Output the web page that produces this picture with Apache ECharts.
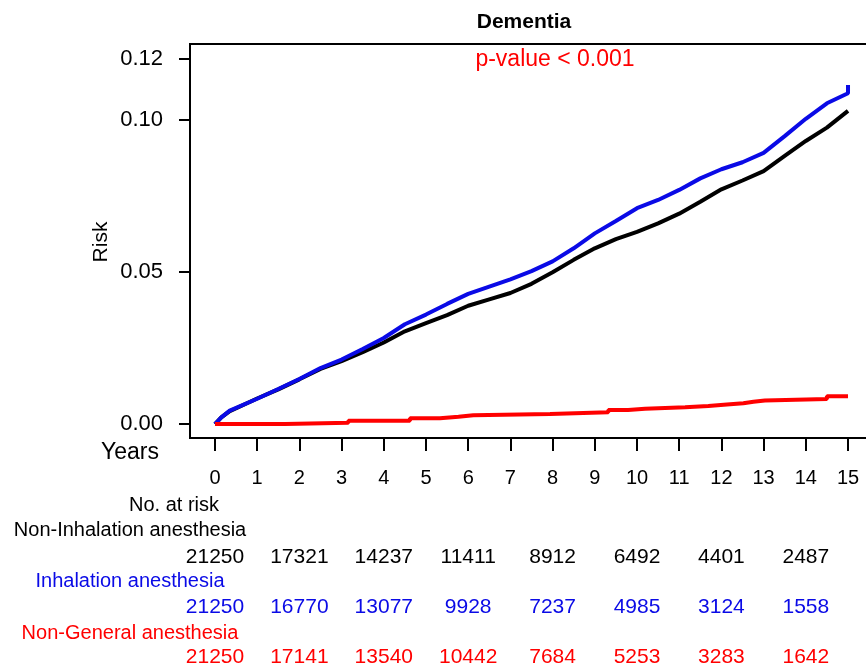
<!DOCTYPE html>
<html>
<head>
<meta charset="utf-8">
<script src="https://cdn.jsdelivr.net/npm/echarts@6/dist/echarts.min.js"></script>
<style>
    html, body { margin: 0; padding: 0; background: #fff; }
    #chart { width: 866px; height: 670px; }
</style>
</head>
<body>
<div id="chart"></div>
<script>
// #region Data
const xTicks = [0, 1, 2, 3, 4, 5, 6, 7, 8, 9, 10, 11, 12, 13, 14, 15];
const yTicks = [0, 0.05, 0.10, 0.12];

// Non-Inhalation anesthesia (black)
const blackYears = [0, 0.15, 0.35, 1, 1.5, 2, 2.5, 3, 3.5, 4, 4.5, 5, 5.5, 6, 6.5, 7, 7.5, 8, 8.5, 9, 9.5, 10, 10.5, 11, 11.5, 12, 12.5, 13, 13.5, 14, 14.5, 15];
const blackRisk = [0, 0.0022, 0.0042, 0.0084, 0.0114, 0.0147, 0.0181, 0.0207, 0.0236, 0.0268, 0.0305, 0.0332, 0.0358, 0.0389, 0.0410, 0.0431, 0.0461, 0.0499, 0.0540, 0.0578, 0.0608, 0.0632, 0.0660, 0.0692, 0.0731, 0.0772, 0.0801, 0.0832, 0.0882, 0.0931, 0.0975, 0.1030];

// Inhalation anesthesia (blue)
const blueYears = [0, 0.15, 0.35, 1, 1.5, 2, 2.5, 3, 3.5, 4, 4.5, 5, 5.5, 6, 6.5, 7, 7.5, 8, 8.5, 9, 9.5, 10, 10.5, 11, 11.5, 12, 12.5, 13, 13.5, 14, 14.5, 15, 15];
const blueRisk = [0, 0.0022, 0.0044, 0.0083, 0.0115, 0.0148, 0.0184, 0.0212, 0.0247, 0.0283, 0.0328, 0.0360, 0.0395, 0.0428, 0.0452, 0.0476, 0.0503, 0.0535, 0.0578, 0.0627, 0.0668, 0.0710, 0.0737, 0.0770, 0.0808, 0.0838, 0.0861, 0.0892, 0.0947, 0.1004, 0.1055, 0.1088, 0.1115];

// Non-General anesthesia (red, step)
const redYears = [0, 1.66, 3.16, 4.62, 5.33, 5.77, 6.12, 7.94, 9.32, 9.79, 10.19, 11.14, 11.69, 12.13, 12.52, 12.76, 13.03, 14.5, 15];
const redRisk = [0, 0.0004, 0.0011, 0.0019, 0.0024, 0.0029, 0.0033, 0.0039, 0.0046, 0.0050, 0.0055, 0.0059, 0.0064, 0.0068, 0.0073, 0.0077, 0.0082, 0.0091, 0.0091];

// No. at risk table
const riskYears = [0, 2, 4, 6, 8, 10, 12, 14];
const nonInhalAtRisk = [21250, 17321, 14237, 11411, 8912, 6492, 4401, 2487];
const inhalAtRisk = [21250, 16770, 13077, 9928, 7237, 4985, 3124, 1558];
const nonGeneralAtRisk = [21250, 17141, 13540, 10442, 7684, 5253, 3283, 1642];
const groupNames = ["Non-Inhalation anesthesia", "Inhalation anesthesia", "Non-General anesthesia"];
// #endregion

// #region Init
const FONT = "'Liberation Sans', Arial, sans-serif";
const BLACK = "#000000";
const BLUE = "#0a0ae6";
const RED = "#ff0000";

const X_MIN = -0.592;
const X_MAX = 15.995;

const zip = (xs, ys) => xs.map((x, i) => [x, ys[i]]);
const row = (vals, r) => riskYears.map((t, i) => [t, r, vals[i]]);

const chart = echarts.init(document.getElementById("chart"), null, { renderer: "canvas" });
// #endregion

const riskRow = (name, vals, r, color) => ({
    name: name,
    type: "scatter",
    xAxisIndex: 1,
    yAxisIndex: 1,
    symbolSize: 0,
    silent: true,
    itemStyle: { opacity: 1, color: color },
    data: row(vals, r),
    label: {
        show: true,
        position: "inside",
        formatter: p => String(p.value[2]),
        color: color,
        opacity: 1,
        textBorderWidth: 0,
        fontSize: 21,
        fontFamily: FONT
    }
});

const text = (str, x, y, color, size) => ({
    type: "text",
    x: x,
    y: y,
    silent: true,
    style: {
        text: str,
        fill: color,
        fontSize: size,
        fontFamily: FONT,
        align: "center",
        verticalAlign: "middle"
    }
});

const option = {
    animation: false,
    backgroundColor: "#fff",
    title: {
        text: "Dementia",
        left: 519,
        top: 7,
        textAlign: "center",
        textStyle: { fontSize: 21, fontWeight: "bold", fontFamily: FONT, color: BLACK }
    },
    grid: [
        { left: 190, top: 44, width: 700, height: 394, outerBoundsMode: "none", show: true, borderColor: BLACK, borderWidth: 2, backgroundColor: "transparent" },
        { left: 190, top: 557, width: 700, height: 100, outerBoundsMode: "none", show: false }
    ],
    xAxis: [
        {
            type: "value",
            gridIndex: 0,
            min: X_MIN,
            max: X_MAX,
            axisLine: { show: false, onZero: false },
            splitLine: { show: false },
            axisTick: {
                show: true,
                inside: false,
                length: 13,
                customValues: xTicks,
                lineStyle: { color: BLACK, width: 2 }
            },
            axisLabel: {
                customValues: xTicks,
                margin: 30,
                fontSize: 20,
                fontFamily: FONT,
                color: BLACK
            }
        },
        { type: "value", gridIndex: 1, min: X_MIN, max: X_MAX, show: false }
    ],
    yAxis: [
        {
            type: "value",
            gridIndex: 0,
            min: -0.0046,
            max: 0.125,
            axisLine: { show: false, onZero: false },
            splitLine: { show: false },
            axisTick: {
                show: true,
                inside: false,
                length: 11,
                customValues: yTicks,
                lineStyle: { color: BLACK, width: 2 }
            },
            axisLabel: {
                customValues: yTicks,
                formatter: v => v.toFixed(2),
                margin: 27,
                fontSize: 22,
                fontFamily: FONT,
                color: BLACK
            }
        },
        { type: "value", gridIndex: 1, min: 0, max: 2, inverse: true, show: false }
    ],
    series: [
        {
            name: "Non-Inhalation anesthesia",
            type: "line",
            data: zip(blackYears, blackRisk),
            showSymbol: false,
            lineStyle: { color: BLACK, width: 4 },
            z: 3
        },
        {
            name: "Inhalation anesthesia",
            type: "line",
            data: zip(blueYears, blueRisk),
            showSymbol: false,
            lineStyle: { color: BLUE, width: 4 },
            z: 4
        },
        {
            name: "Non-General anesthesia",
            type: "line",
            step: "end",
            data: zip(redYears, redRisk),
            showSymbol: false,
            lineStyle: { color: RED, width: 4 },
            z: 5
        },
        riskRow("nonInhal", nonInhalAtRisk, 0, BLACK),
        riskRow("inhal", inhalAtRisk, 1, BLUE),
        riskRow("nonGeneral", nonGeneralAtRisk, 2, RED)
    ],
    graphic: [
        text("p-value < 0.001", 555, 60, RED, 23),
        text("Risk", 101, 242, BLACK, 21),
        text("Years", 130, 453, BLACK, 23),
        text("No. at risk", 174, 505, BLACK, 20),
        text(groupNames[0], 130, 530, BLACK, 20),
        text(groupNames[1], 130, 581, BLUE, 20),
        text(groupNames[2], 130, 633, RED, 20)
    ]
};

// "Risk" reads bottom to top
option.graphic[1].rotation = Math.PI / 2;

chart.setOption(option);
</script>
</body>
</html>
